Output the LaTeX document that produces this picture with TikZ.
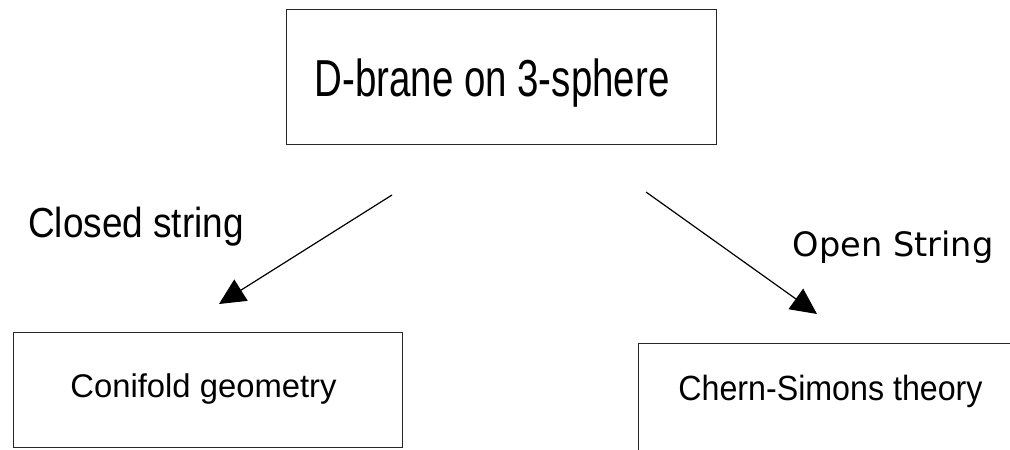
\documentclass[tikz,border=0pt]{standalone}
\usepackage{fontspec}
\usetikzlibrary{arrows.meta}
\newfontfamily\narrowA[FakeStretch=0.74]{Liberation Sans}
\newfontfamily\narrowB[FakeStretch=0.88]{Liberation Sans}
\newfontfamily\narrowC[FakeStretch=0.92]{Liberation Sans}
\newfontfamily\plainsans{Liberation Sans}
\newfontfamily\widesans{DejaVu Sans}
\begin{document}
\begin{tikzpicture}[x=1pt,y=-1pt,
  framebox/.style={draw=black!85,line width=1.4pt,inner sep=0pt,anchor=north west},
  caption/.style={inner sep=0pt,anchor=base},
  flow/.style={line width=1.2pt,-{Triangle[length=26pt,width=25pt]}}]
  \useasboundingbox (0,0) rectangle (1010,450);
  \fill[white] (0,0) rectangle (1010,450);

  % boxes
  \node[framebox,minimum width=430pt,minimum height=135pt] (top) at (286,9) {};
  \node[framebox,minimum width=389pt,minimum height=115pt] (conifold) at (13,332) {};
  \node[framebox,minimum width=400pt,minimum height=130pt] (cs) at (638,343) {};

  % box texts
  \node[caption] (toptext) at (492,96)
    {\narrowA\fontsize{52}{60}\selectfont D-brane on 3-sphere};
  \node[caption] (conitext) at (203.5,397)
    {\plainsans\fontsize{32.8}{38}\selectfont Conifold geometry};
  \node[caption] (cstext) at (830.5,400)
    {\narrowC\fontsize{35}{40}\selectfont Chern-Simons theory};

  % arrow labels
  \node[caption] (closed) at (136,237)
    {\narrowB\fontsize{42}{48}\selectfont Closed string};
  \node[caption] (open) at (893,256)
    {\widesans\fontsize{33.6}{40}\selectfont Open String};

  % arrows
  \coordinate (lstart) at (392,195);
  \coordinate (lend) at (219,304);
  \coordinate (rstart) at (646,192);
  \coordinate (rend) at (817,314);
  \draw[flow] (lstart) -- (lend);
  \draw[flow] (rstart) -- (rend);
\end{tikzpicture}
\end{document}
